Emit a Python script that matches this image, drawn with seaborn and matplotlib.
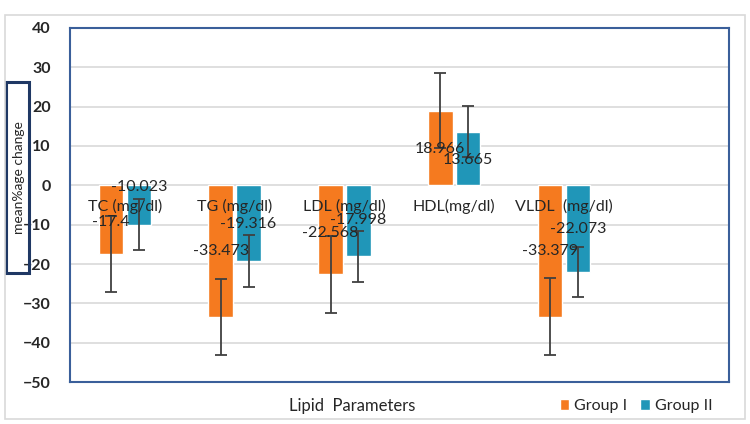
import seaborn as sns
import matplotlib.pyplot as plt
import pandas as pd
from matplotlib.patches import Rectangle

# values
params = ["TC (mg/dl)", "TG (mg/dl)", "LDL (mg/dl)", "HDL(mg/dl)", "VLDL  (mg/dl)"]
group1 = [-17.4, -33.473, -22.568, 18.966, -33.379]
group2 = [-10.023, -19.316, -17.998, 13.665, -22.073]
err1 = [9.7, 9.75, 9.8, 9.6, 9.7]
err2 = [6.45, 6.6, 6.45, 6.5, 6.4]
value_labels1 = ["-17.4", "-33.473", "-22.568", "18.966", "-33.379"]
value_labels2 = ["-10.023", "-19.316", "-17.998", "13.665", "-22.073"]

# where the value labels sit (y, data units), as in the source
label_y1 = [-9.2, -16.8, -12.2, 9.3, -16.8]
label_y2 = [-0.5, -9.9, -8.7, 6.5, -11.2]

orange = "#F57A1F"
blue = "#2096B8"

df = pd.DataFrame({
    "param": params * 2,
    "group": ["Group I"] * 5 + ["Group II"] * 5,
    "value": group1 + group2,
})

sns.set_style("white")
plt.rcParams["font.family"] = ["Lato", "DejaVu Sans"]

fig = plt.figure(figsize=(7.5, 4.24), dpi=100)
ax = fig.add_axes([0.0933, 0.099, 0.8783, 0.835])

sns.barplot(data=df, x="param", y="value", hue="group", order=params,
            palette=[orange, blue], saturation=1, width=0.507, gap=0.12,
            errorbar=None, ax=ax, zorder=2)

ax.set_xlim(-0.5, 5.5)
ax.set_ylim(-50, 40)
ax.set_yticks(range(-50, 41, 10))
ax.yaxis.grid(True, color="#D9D9D9", linewidth=1.2, zorder=0)
ax.set_axisbelow(True)
ax.set_xticks([])
ax.set_xlabel("")
ax.set_ylabel("")
for lab in ax.get_yticklabels():
    lab.set_fontweight("bold")
    lab.set_fontsize(11.5)
ax.tick_params(axis="y", length=0, pad=14)
for sp in ax.spines.values():
    sp.set_visible(True)
    sp.set_color("#3A5F9A")
    sp.set_linewidth(1.5)

# error bars and labels, placed at the bars seaborn drew
bars = [p for p in ax.patches if p.get_height() != 0][:10]
xs = [b.get_x() + b.get_width() / 2 for b in bars]
x1, x2 = xs[:5], xs[5:]
ax.errorbar(x1, group1, yerr=err1, fmt="none", ecolor="#404040",
            elinewidth=1.3, capsize=4, capthick=1.3, zorder=3)
ax.errorbar(x2, group2, yerr=err2, fmt="none", ecolor="#404040",
            elinewidth=1.3, capsize=4, capthick=1.3, zorder=3)

for i, p in enumerate(params):
    ax.text(i, -5.4, p, ha="center", va="center", fontsize=11.5, zorder=4)
    ax.text(x1[i], label_y1[i], value_labels1[i], ha="center", va="center",
            fontsize=11.5, zorder=4)
    ax.text(x2[i], label_y2[i], value_labels2[i], ha="center", va="center",
            fontsize=11.5, zorder=4)

# legend and axis title below the plot area
handles, labels = ax.get_legend_handles_labels()
ax.legend(handles, labels, loc="center", bbox_to_anchor=(0.848, 0.042),
          bbox_transform=fig.transFigure, ncol=2, frameon=False,
          handlelength=0.6, handleheight=0.6, handletextpad=0.3,
          columnspacing=0.8, fontsize=11.5)
fig.text(0.469, 0.042, "Lipid  Parameters", ha="center", va="center", fontsize=12)

# y title in a dark box
fig.patches.append(Rectangle((0.008, 0.356), 0.0307, 0.45, transform=fig.transFigure,
                             fill=False, edgecolor="#1F3864", linewidth=2.2))
fig.text(0.025, 0.5815, "mean%age change", rotation=90, ha="center", va="center",
         fontsize=10)

# light outer frame
fig.patches.append(Rectangle((0.0067, 0.0118), 0.9867, 0.953, transform=fig.transFigure,
                             fill=False, edgecolor="#D9D9D9", linewidth=1.2))

fig.savefig("out.png", dpi=100)
